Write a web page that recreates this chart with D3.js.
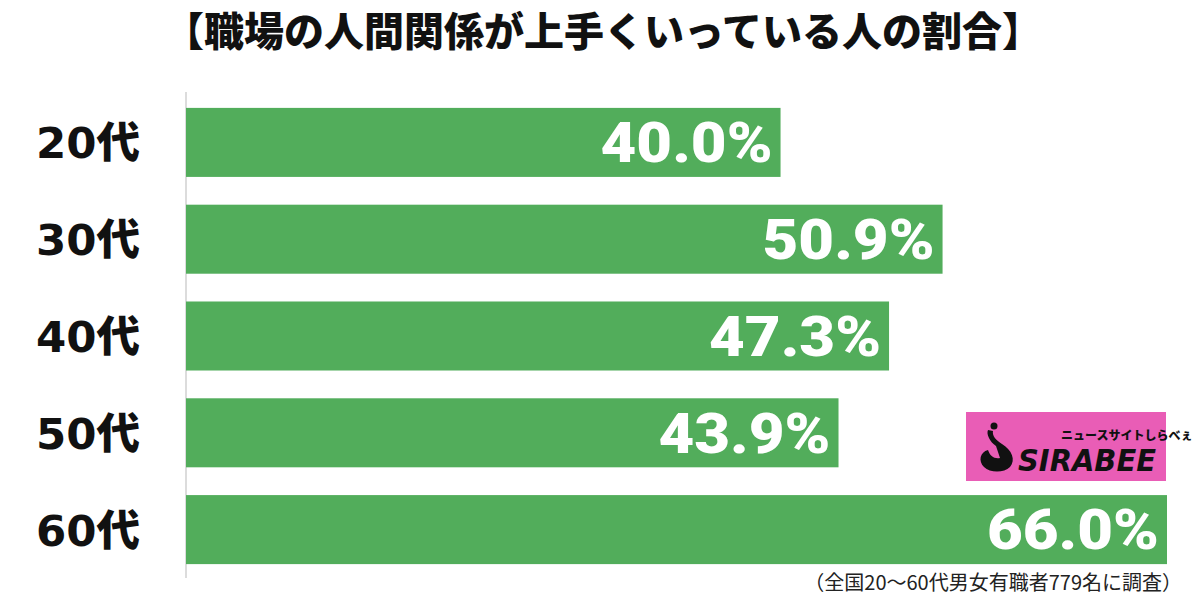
<!DOCTYPE html>
<html><head><meta charset="utf-8">
<script src="https://cdn.jsdelivr.net/npm/d3@7"></script>
<style>body{margin:0;background:#fff;}svg{display:block;}</style>
</head><body>
<svg id="c" width="1200" height="599"></svg>
<script>
const categories = ["20代","30代","40代","50代","60代"];
const values = [40.0, 50.9, 47.3, 43.9, 66.0];
const title = "【職場の人間関係が上手くいっている人の割合】";
const footnote = "（全国20～60代男女有職者779名に調査）";

const svg = d3.select("#c");
const font = "'Noto Sans CJK JP','Noto Sans',sans-serif";
const x = d3.scaleLinear().domain([0, 66]).range([186, 1167]);
const y = d3.scaleBand().domain(categories).range([94, 578]).paddingInner(0.287).paddingOuter(0.1435);

svg.append("text").attr("x", 603).attr("y", 46).attr("text-anchor","middle")
  .attr("font-family", font).attr("font-weight", 900).attr("font-size", 40).attr("fill","#111").text(title);

svg.append("line").attr("x1",186).attr("x2",186).attr("y1",92).attr("y2",578).attr("stroke","#d0d0d0").attr("stroke-width",1.5);

svg.selectAll("rect.bar").data(values).join("rect").attr("class","bar")
  .attr("x", x(0)).attr("y",(d,i)=>y(categories[i])).attr("width", d=>x(d)-x(0)).attr("height", y.bandwidth())
  .attr("fill","#52ad5b");

svg.selectAll("text.cat").data(categories).join("text").attr("class","cat")
  .attr("x", 36).attr("y", d=>y(d)+y.bandwidth()/2).attr("dy","0.37em").attr("text-anchor","start")
  .attr("font-family", "'DejaVu Sans','Noto Sans CJK JP',sans-serif").attr("font-weight", 900).attr("font-size", 43)
  .attr("fill","#111").attr("textLength",104).attr("lengthAdjust","spacingAndGlyphs").text(d=>d);

svg.selectAll("text.val").data(values).join("text").attr("class","val")
  .attr("x", d=>x(d)-8).attr("y",(d,i)=>y(categories[i])+y.bandwidth()/2).attr("dy","0.36em").attr("text-anchor","end")
  .attr("font-family", "Roboto,'Liberation Sans',sans-serif").attr("font-weight", 900).attr("font-size", 55)
  .attr("textLength",172).attr("lengthAdjust","spacingAndGlyphs")
  .attr("fill","#fff").text(d=>d.toFixed(1)+"%");

svg.append("text").attr("x", 1182).attr("y", 590).attr("text-anchor","end")
  .attr("font-family", font).attr("font-size", 20).attr("fill","#222").text(footnote);

// logo
const g = svg.append("g").attr("transform","translate(966,412)");
g.append("rect").attr("width",200).attr("height",69).attr("fill","#e95db6");
g.append("path").attr("d","M30 34 C24 30 20 22 22 18 L27 19 C26 24 30 28 36 32 C46 38 50 48 44 55 C38 61 24 61 18 55 C12 49 14 40 22 38 C24 44 28 47 34 46 Z").attr("fill","#111");
g.append("circle").attr("cx",28).attr("cy",14).attr("r",3.5).attr("fill","#111");
g.append("text").attr("x",52).attr("y",59).attr("font-family","'DejaVu Sans',sans-serif").attr("font-weight",900)
  .attr("font-style","italic").attr("font-size",31).attr("fill","#111").attr("textLength",138).attr("lengthAdjust","spacingAndGlyphs").text("SIRABEE");
g.append("text").attr("x",95).attr("y",28).attr("font-family",font).attr("font-weight",900)
  .attr("font-size",12).attr("fill","#111").text("ニュースサイトしらべぇ");
</script>
</body></html>
